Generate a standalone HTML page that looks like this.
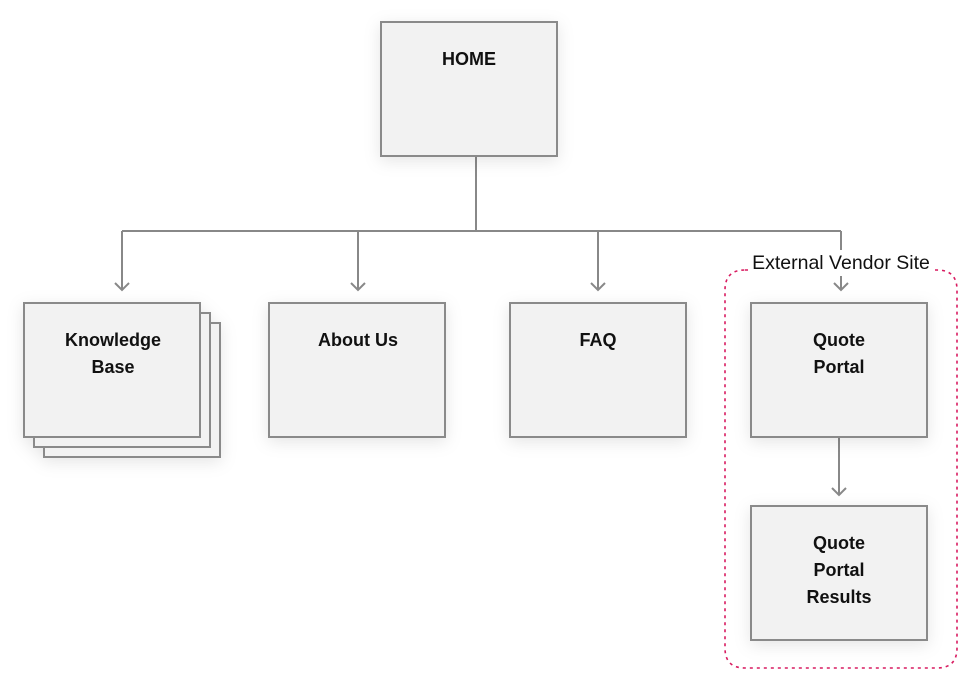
<!DOCTYPE html>
<html><head><style>
html,body{margin:0;padding:0;background:#fff;}
svg text{font-family:"Liberation Sans",sans-serif;font-size:18px;fill:#111;text-anchor:middle;}
</style></head><body>
<svg width="980" height="693" viewBox="0 0 980 693" xmlns="http://www.w3.org/2000/svg">
<defs>
<filter id="sh" x="-30%" y="-30%" width="160%" height="160%"><feDropShadow dx="0" dy="4" stdDeviation="8" flood-color="#000" flood-opacity="0.10"/></filter>
</defs>
<g fill="none" stroke="#888" stroke-width="2">
<path d="M476 157V231M122 231H841M122 231V290M358 231V290M598 231V290M841 231V250M841 276V290M839 437V495"/>
<path d="M115 283L122 290L129 283M351 283L358 290L365 283M591 283L598 290L605 283M834 283L841 290L848 283M832 488L839 495L846 488"/>
</g>
<path d="M745 270H748 M935 270H937 Q957 270 957 290V648Q957 668 937 668H745Q725 668 725 648V290Q725 270 745 270" fill="none" stroke="#d81b60" stroke-width="1.6" stroke-dasharray="3,4"/>
<text x="841" y="269" style="font-size:19.5px;font-weight:normal">External Vendor Site</text>
<g fill="#f2f2f2" stroke="#8a8a8a" stroke-width="2" filter="url(#sh)">
<rect x="381" y="22" width="176" height="134"/>
<rect x="44" y="323" width="176" height="134"/>
<rect x="34" y="313" width="176" height="134"/>
<rect x="24" y="303" width="176" height="134"/>
<rect x="269" y="303" width="176" height="134"/>
<rect x="510" y="303" width="176" height="134"/>
<rect x="751" y="303" width="176" height="134"/>
<rect x="751" y="506" width="176" height="134"/>
</g>
<g>
<text x="469" y="65" font-weight="bold">HOME</text>
<text x="113" y="346" font-weight="bold">Knowledge</text>
<text x="113" y="373" font-weight="bold">Base</text>
<text x="358" y="346" font-weight="bold">About  Us</text>
<text x="598" y="346" font-weight="bold">FAQ</text>
<text x="839" y="346" font-weight="bold">Quote</text>
<text x="839" y="373" font-weight="bold">Portal</text>
<text x="839" y="549" font-weight="bold">Quote</text>
<text x="839" y="576" font-weight="bold">Portal</text>
<text x="839" y="603" font-weight="bold">Results</text>
</g>
</svg>
</body></html>
